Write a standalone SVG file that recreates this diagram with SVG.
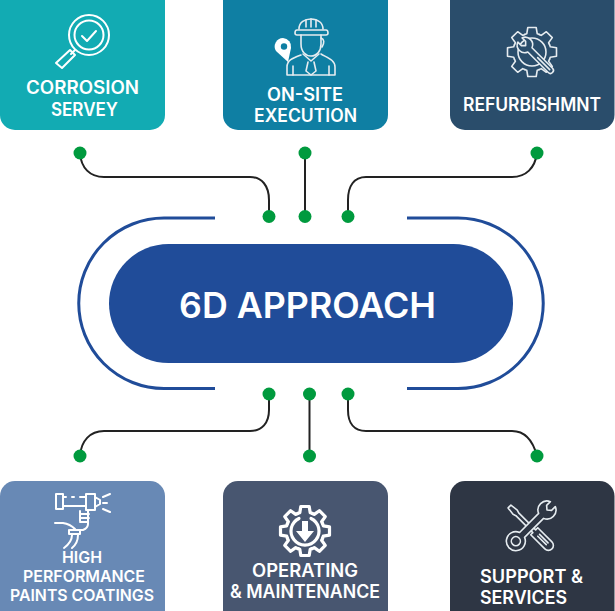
<svg xmlns="http://www.w3.org/2000/svg" width="615" height="611" viewBox="0 0 615 611">
<style>
text{font-family:"Inter","Liberation Sans",sans-serif;font-weight:600;font-size:18px;fill:#fff;text-anchor:start}
.sm{font-size:16.5px}
.big{font-size:36px}
.box{stroke:none}
.ic{fill:none;stroke:#fff;stroke-width:2;stroke-linecap:round;stroke-linejoin:round}
.thin{stroke:#e6ecf0;stroke-width:1.6}
.heavy{stroke-width:3.2}
.wire{fill:none;stroke:#222;stroke-width:2}
.arc{fill:none;stroke:#204c99;stroke-width:3}
.dot{fill:#009a3e}
</style>
<defs>
<path id="seg" d="M-7.27,-17.55A19 19 0 0 1-5.2,-18.28L-4.2,-24.500H4.2L5.200,-18.28A19 19 0 0 1 7.27,-17.55"/>
<g id="gear"><use href="#seg"/><use href="#seg" transform="rotate(45)"/><use href="#seg" transform="rotate(90)"/><use href="#seg" transform="rotate(135)"/><use href="#seg" transform="rotate(180)"/><use href="#seg" transform="rotate(225)"/><use href="#seg" transform="rotate(270)"/><use href="#seg" transform="rotate(315)"/></g>
</defs>
<rect width="615" height="611" fill="#fff"/>

<g id="connectors">
<path class="wire" d="M80,153C81,168 90,177 104,177H250C262,177 269,186 269,200V216"/>
<path class="wire" d="M305,153V216"/>
<path class="wire" d="M537,153C535,168 526,177 512,177H366C354,177 348,186 348,200V216"/>
<path class="wire" d="M269,394V410C269,423 262,431 250,431H104C90,431 81,441 80,456"/>
<path class="wire" d="M309.500,394V456"/>
<path class="wire" d="M348,394V410C348,423 354,431 366,431H512C526,431 533,441 537,456"/>
<circle class="dot" cx="80" cy="153" r="6.500"/><circle class="dot" cx="305" cy="153" r="6.500"/><circle class="dot" cx="537" cy="153" r="6.500"/>
<circle class="dot" cx="269" cy="216.500" r="6.500"/><circle class="dot" cx="305" cy="216.500" r="6.500"/><circle class="dot" cx="348" cy="216.500" r="6.500"/>
<circle class="dot" cx="269" cy="394" r="6.500"/><circle class="dot" cx="309.500" cy="394" r="6.500"/><circle class="dot" cx="348" cy="394" r="6.500"/>
<circle class="dot" cx="80" cy="456" r="6.500"/><circle class="dot" cx="309.500" cy="456" r="6.500"/><circle class="dot" cx="537" cy="456" r="6.500"/>
</g>

<g id="center">
<path class="arc" d="M215,218H164A85 85 0 0 0 164,388.500H215"/>
<path class="arc" d="M407,218H458A85 85 0 0 1 458,388.500H407"/>
<rect x="109" y="244" width="404" height="119" rx="59.500" fill="#204c99"/>
<text class="big" x="179" y="318" textLength="257" lengthAdjust="spacingAndGlyphs">6D APPROACH</text>
</g>

<g id="corrosion">
<rect class="box" x="0" y="-16" width="165" height="146" rx="15" fill="#12abb3"/>
<g class="ic">
<circle cx="89" cy="35" r="20"/><circle cx="89" cy="35" r="14.500"/>
<path d="M82,36L87,41L96,31"/>
<path d="M75,50L71,54M56,63L70,50L75,55L62,68Z"/>
</g>
<text x="26" y="94" textLength="113" lengthAdjust="spacingAndGlyphs">CORROSION</text>
<text x="51" y="116" textLength="67" lengthAdjust="spacingAndGlyphs">SERVEY</text>
</g>

<g id="onsite">
<rect class="box" x="223" y="-16" width="165" height="146" rx="15" fill="#0f7fa3"/>
<g class="ic thin">
<path d="M299,29C299,22 305,19 311,19C318,19 323,23 323,29"/>
<path d="M297,30H326Q328,30 328,33Q328,35 326,35H297Q295,35 295,33Q295,30 297,30Z"/>
<path d="M306,20V27M316,20V27M311,19V27"/>
<path d="M301,35V44C301,52 306,56 311,56C317,56 321,51 321,44V35"/>
<path d="M321,38Q326,40 322,47"/>
<path d="M301,55C293,58 287,60 287,67V75H335V67C335,60 328,58 321,54"/>
<path d="M303,54L311,61L319,54M308,62L306,71L311,75L316,71L314,62"/>
<path d="M293,66V75M329,66V75"/>
</g>
<path d="M283,38a8.500,8.500 0 0 0 -7,13L288,62L291,48A8.500,8.500 0 0 0 283,38Z" fill="#fff"/>
<circle cx="284" cy="46.500" r="3.200" fill="#0f7fa3"/>
<text x="267" y="101" textLength="76" lengthAdjust="spacingAndGlyphs">ON-SITE</text>
<text x="254" y="122" textLength="103" lengthAdjust="spacingAndGlyphs">EXECUTION</text>
</g>

<g id="refurbishment">
<rect class="box" x="450" y="-16" width="164.500" height="146" rx="15" fill="#2a4d6b"/>
<g class="ic thin" transform="translate(532,52)">
<use href="#gear"/>
<circle r="14"/>
<g transform="rotate(-45)"><path fill="#2a4d6b" d="M-3,-17L-3,-12L0,-9L3,-12L3,-17A7.500 7.500 0 0 1 3,-3V26A3 3 0 0 1 -3,26V-3A7.500 7.500 0 0 1 -3,-17Z"/><path d="M0,8V25"/></g>
</g>
<text x="463" y="111" textLength="138" lengthAdjust="spacingAndGlyphs">REFURBISHMNT</text>
</g>

<g id="coatings">
<rect class="box" x="0" y="481" width="165" height="146" rx="15" fill="#6889b5"/>
<g class="ic">
<path d="M56,494H63V509H56ZM63,506H86M63,497H66M72,497H74M80,497H86M86,494H95V510H86ZM95,497L100,500V504L95,507"/>
<path d="M103,497L110,494M103,503H107M103,509L110,512"/>
<path d="M80,511V521M88,511V524Q88,528 83,530H70M80,514H89M80,518H89M80,522H88"/>
<path d="M55,523H63Q70,524 75,529"/>
<path d="M69,530V534H80V530M72,535Q72,542 64,548M78,535Q78,543 72,548"/>
</g>
<text class="sm" x="62" y="563" textLength="40" lengthAdjust="spacingAndGlyphs">HIGH</text>
<text class="sm" x="23" y="582" textLength="122" lengthAdjust="spacingAndGlyphs">PERFORMANCE</text>
<text class="sm" x="10" y="600.500" textLength="144" lengthAdjust="spacingAndGlyphs">PAINTS COATINGS</text>
</g>

<g id="operating">
<rect class="box" x="223" y="481" width="165" height="146" rx="15" fill="#485670"/>
<g class="ic heavy" transform="translate(305,531)">
<use href="#gear"/>
<path d="M-6,-12.500A14 14 0 1 0 6,-12.500"/>
</g>
<path d="M302,521H308V531H314L305,542L296,531H302Z" fill="#fff"/>
<text x="252" y="577" textLength="106" lengthAdjust="spacingAndGlyphs">OPERATING</text>
<text x="230" y="598" textLength="150" lengthAdjust="spacingAndGlyphs">&amp; MAINTENANCE</text>
</g>

<g id="support">
<rect class="box" x="450" y="481" width="164.500" height="146" rx="15" fill="#2e3644"/>
<g class="ic thin" transform="translate(530,527)">
<g transform="rotate(-45)"><path fill="#2e3644" d="M-2,-29H2L3,-21L2,-18V6H5V26A5 5 0 0 1 -5,26V6H-2V-18L-3,-21Z"/><path d="M-1,12V24M1.500,12V24"/></g>
<g transform="rotate(45)"><path fill="#2e3644" d="M-3.500,-15.700V11.200A9.500 9.500 0 1 0 3.500,11.200V-15.700A9 9 0 0 0 3.500,-32.300V-27L0,-24L-3.500,-27V-32.300A9 9 0 0 0 -3.500,-15.700Z"/><circle cy="20" r="4.500"/></g>
</g>
<text x="480" y="583" textLength="103" lengthAdjust="spacingAndGlyphs">SUPPORT &amp;</text>
<text x="480" y="604" textLength="87" lengthAdjust="spacingAndGlyphs">SERVICES</text>
</g>
</svg>
